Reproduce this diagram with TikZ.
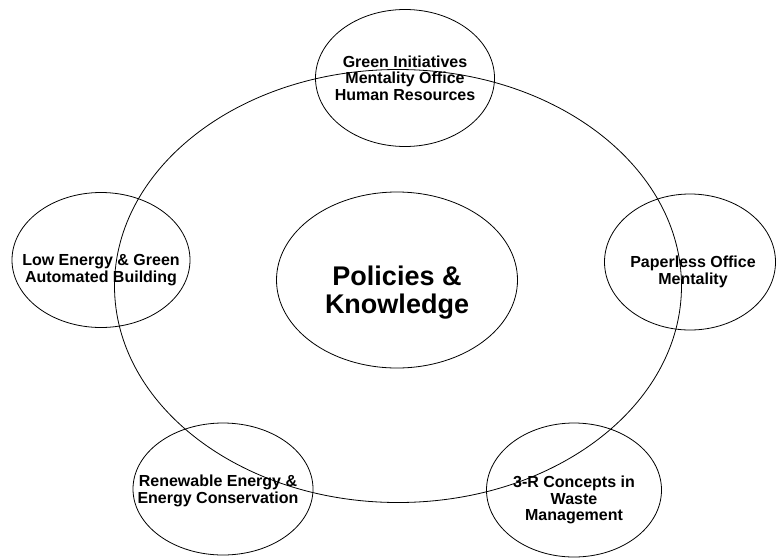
\documentclass[tikz,border=0pt]{standalone}
\usepackage{fontspec}
\setmainfont{Liberation Sans}
\usetikzlibrary{shapes.geometric}
\begin{document}
\begin{tikzpicture}[x=1pt,y=-1pt,
  ring/.style={draw,ellipse,inner sep=0pt,line width=0.8pt},
  lbl/.style={align=center,font=\fontsize{16}{16.5}\selectfont\bfseries,inner sep=0pt},
  bigl/.style={align=center,font=\fontsize{27}{28}\selectfont\bfseries,inner sep=0pt}]
\useasboundingbox(0,0)rectangle(778,557);
% outer ring and the core
\node[ring,minimum width=567pt,minimum height=433pt](outer)at(398,286){};
\node[ring,minimum width=241pt,minimum height=176pt](core)at(397,280){};
\node[bigl](coreT)at([yshift=-13pt]core.center){Policies \&\\Knowledge};
% the five satellites
\node[ring,minimum width=179pt,minimum height=137pt](green)at(405,78){};
\node[lbl](greenT)at(green.center){Green Initiatives\\Mentality Office\\Human Resources};
\node[ring,minimum width=178pt,minimum height=135pt](build)at(101,260){};
\node[lbl](buildT)at([yshift=-10pt]build.center){Low Energy \& Green\\Automated Building};
\node[ring,minimum width=171pt,minimum height=136pt](paper)at(690,262){};
\node[lbl](paperT)at([xshift=3pt,yshift=-10pt]paper.center){Paperless Office\\Mentality};
\node[ring,minimum width=180pt,minimum height=132pt](renew)at(223,489){};
\node[lbl](renewT)at([xshift=-5pt,yshift=-2pt]renew.center){Renewable Energy \&\\Energy Conservation};
\node[ring,minimum width=175pt,minimum height=134pt](waste)at(574,490){};
\node[lbl](wasteT)at([yshift=-10pt]waste.center){3-R Concepts in\\Waste\\Management};
\end{tikzpicture}
\end{document}
